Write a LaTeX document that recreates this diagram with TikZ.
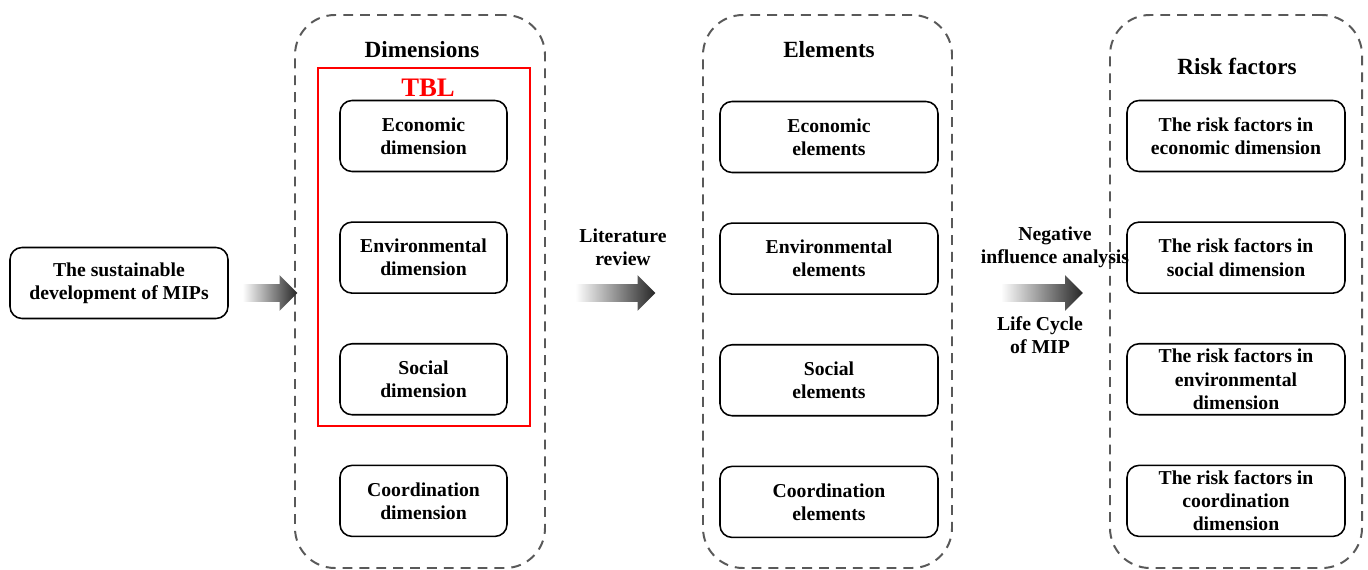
\documentclass[tikz,border=0pt]{standalone}
\usepackage{fontspec}
\setmainfont{Liberation Serif}
\usetikzlibrary{positioning,shapes.arrows}

\newcommand{\pxu}{0.025cm}

\begin{document}
\begin{tikzpicture}[x=\pxu, y=-\pxu, node distance=3.04cm,
    font=\bfseries\fontsize{14}{16.5}\selectfont,
    group/.style={draw=black!65, line width=1.4pt, dash pattern=on 7pt off 5pt,
      rounded corners=1cm, minimum width=#1*\pxu, minimum height=553*\pxu},
    main node/.style={draw, line width=1.1pt, rounded corners=0.3cm, align=center,
      minimum height=71*\pxu, minimum width=#1*\pxu, inner sep=1pt},
    main node/.default=218,
    title/.style={font=\bfseries\fontsize{16.5}{20}\selectfont},
    fat arrow/.style={single arrow, draw=none, minimum height=#1*\pxu,
      single arrow head extend=9*\pxu, inner xsep=0pt, inner ysep=8.5*\pxu,
      left color=white, right color=black!85},
    ]

\useasboundingbox (0,0) rectangle (1368,570);

% dashed groups
\node[group=250] (dims) at (420,291.5) {};
\node[group=249] (elems) at (827.5,291.5) {};
\node[group=252] (risks) at (1236,291.5) {};

\node[main node] (sd) at (119,283) {The sustainable\\development of MIPs};

% dimensions
\node[title] (dimT) at (422,50) {Dimensions};
\node[draw=red, line width=1.4pt, minimum width=212*\pxu, minimum height=358*\pxu] (tbl) at (424,247) {};
\node[text=red, font=\bfseries\fontsize{19}{22}\selectfont] (tblT) at (428,88) {TBL};

\node[main node=167] (econDim) at (423.5,136) {Economic\\dimension};
\node[main node=167] (envDim) [below of=econDim] {Environmental\\dimension};
\node[main node=167] (socDim) [below of=envDim] {Social\\dimension};
\node[main node=167] (coordDim) [below of=socDim] {Coordination\\dimension};

% elements
\node[title] (elT) at (829,50) {Elements};
\node[main node] (econEl) at (829,137) {Economic\\elements};
\node[main node] (envEl) [below of=econEl] {Environmental\\elements};
\node[main node] (socEl) [below of=envEl] {Social\\elements};
\node[main node] (coordEl) [below of=socEl] {Coordination\\elements};

% risk factors
\node[title] (riskT) at (1237,66) {Risk factors};
\node[main node] (econRisk) at (1236,136) {The risk factors in\\economic dimension};
\node[main node] (socRisk) [below of=econRisk] {The risk factors in\\social dimension};
\node[main node] (envRisk) [below of=socRisk] {The risk factors in\\environmental\\dimension};
\node[main node] (coordRisk) [below of=envRisk] {The risk factors in\\coordination\\dimension};

% arrows
\node[fat arrow=55] (arrA) at (265.5,293) {};
\node[fat arrow=80] (arrB) at (611,293) {};
\node[fat arrow=82] (arrC) at (1037.5,293) {};

\node[align=center] (litRev) at (623,247) {Literature\\review};
\node[align=center] (negInf) at (1055,247) {Negative\\influence analysis};
\node[align=center] (lifeCyc) at (1040,335) {Life Cycle\\of MIP};

\end{tikzpicture}
\end{document}
